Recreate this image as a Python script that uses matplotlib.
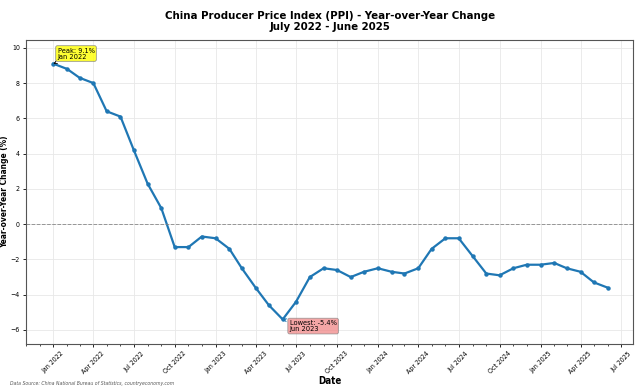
import numpy as np
import pandas as pd
import matplotlib
matplotlib.use('Agg')
import matplotlib.pyplot as plt
import matplotlib.dates as mdates

months = pd.date_range('2022-01-01', '2025-06-01', freq='MS')
ppi = [9.1, 8.8, 8.3, 8.0, 6.4, 6.1, 4.2, 2.3, 0.9, -1.3, -1.3, -0.7,
       -0.8, -1.4, -2.5, -3.6, -4.6, -5.4, -4.4, -3.0, -2.5, -2.6, -3.0, -2.7,
       -2.5, -2.7, -2.8, -2.5, -1.4, -0.8, -0.8, -1.8, -2.8, -2.9, -2.5, -2.3,
       -2.3, -2.2, -2.5, -2.7, -3.3, -3.6]
ppi = np.array(ppi)

plt.rcParams['font.family'] = ['DejaVu Sans']
cond = dict(family='DejaVu Sans', fontstretch='condensed')

fig, ax = plt.subplots(figsize=(6.4, 3.91), dpi=100)
fig.subplots_adjust(left=0.041, right=0.989, top=0.898, bottom=0.120)

ax.plot(months, ppi, color='#1f77b4', lw=1.6, marker='o', ms=2.2)
ax.axhline(0, color='gray', ls='--', lw=0.7, alpha=0.8)

i_max = int(np.argmax(ppi))
i_min = int(np.argmin(ppi))
ax.annotate(f'Peak: {ppi[i_max]:.1f}%\n{months[i_max]:%b %Y}',
            xy=(months[i_max], ppi[i_max]), xytext=(3, 3), textcoords='offset points',
            fontsize=5.3, va='bottom', ha='left', linespacing=1.0,
            bbox=dict(boxstyle='round,pad=0.25', fc='yellow', ec='gray', alpha=0.8, lw=0.6),
            arrowprops=dict(arrowstyle='->', color='black', lw=0.6), **cond)
ax.annotate(f'Lowest: {ppi[i_min]:.1f}%\n{months[i_min]:%b %Y}',
            xy=(months[i_min], ppi[i_min]), xytext=(5, -0.5), textcoords='offset points',
            fontsize=5.3, va='top', ha='left', linespacing=1.0,
            bbox=dict(boxstyle='round,pad=0.25', fc='lightcoral', ec='gray', alpha=0.7, lw=0.6),
            arrowprops=dict(arrowstyle='->', color='#1f77b4', lw=0.6), **cond)

ax.set_xlim(pd.Timestamp('2021-11-01'), pd.Timestamp('2025-07-28'))
ax.set_ylim(-6.8, 10.45)
ax.xaxis.set_major_locator(mdates.MonthLocator(bymonth=[1, 4, 7, 10]))
ax.xaxis.set_major_formatter(mdates.DateFormatter('%b %Y'))
ax.xaxis.set_minor_locator(mdates.MonthLocator())
ax.tick_params(axis='x', labelsize=5, rotation=45, length=2.5, width=0.6, pad=2)
ax.tick_params(axis='x', which='minor', length=1.5, width=0.5)
ax.tick_params(axis='y', labelsize=5, length=2.5, width=0.6, pad=2)
for lab in ax.get_xticklabels() + ax.get_yticklabels():
    lab.set_fontstretch('condensed')
ax.grid(True, color='#e8e8e8', lw=0.6)
ax.set_axisbelow(True)
for s in ax.spines.values():
    s.set_color('#555555')
    s.set_linewidth(0.8)

ax.set_xlabel('Date', fontsize=7, fontweight='bold', labelpad=1, **cond)
ax.set_ylabel('Year-over-Year Change (%)', fontsize=6, fontweight='bold', labelpad=1, **cond)
ax.set_title('China Producer Price Index (PPI) - Year-over-Year Change\nJuly 2022 - June 2025',
             fontsize=8.2, fontweight='bold', pad=7, linespacing=1.2, **cond)
fig.text(0.015, 0.015, 'Data Source: China National Bureau of Statistics, countryeconomy.com',
         fontsize=3.7, style='italic', color='#555555', **cond)

fig.savefig('out.png', dpi=100)
